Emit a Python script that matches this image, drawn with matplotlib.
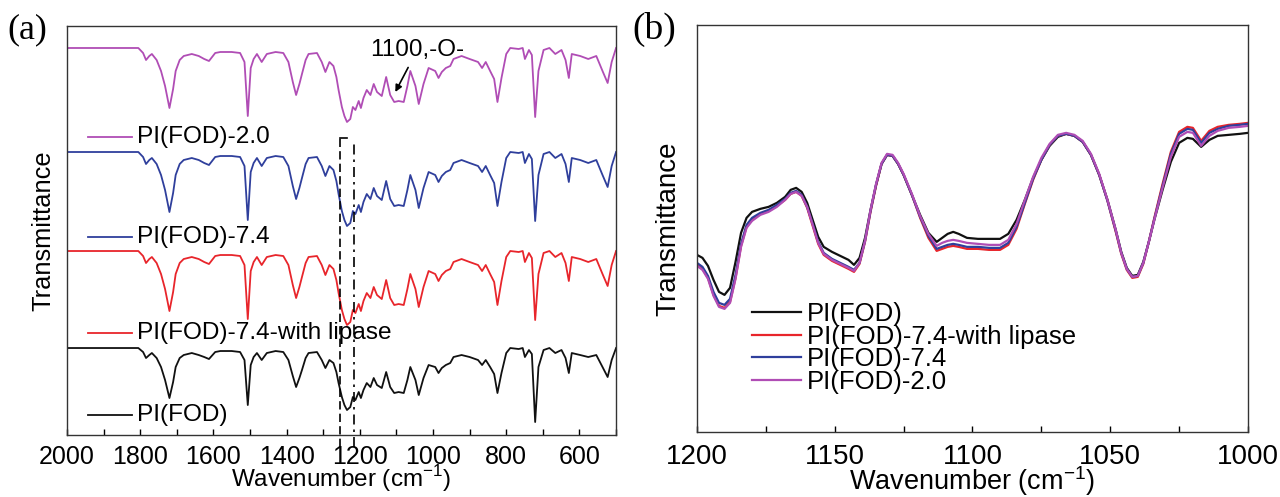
import matplotlib
matplotlib.use('Agg')
import matplotlib.pyplot as plt
from matplotlib.ticker import MultipleLocator

plt.rcParams['font.family'] = ['Liberation Sans', 'DejaVu Sans']
plt.rcParams['mathtext.fontset'] = 'custom'
plt.rcParams['mathtext.rm'] = 'Liberation Sans'

# ---- panel (a): full spectra, stacked (arbitrary transmittance units) ----
wn_a = [2000, 1900, 1805, 1792, 1784, 1775, 1768, 1755, 1743, 1732,
        1720, 1710, 1703, 1692, 1681, 1659, 1640, 1625, 1612, 1595,
        1581, 1550, 1527, 1515, 1506, 1498, 1490, 1481, 1468, 1454,
        1430, 1409, 1395, 1383, 1374, 1365, 1358, 1348, 1340, 1317,
        1304, 1294, 1283, 1272, 1264, 1258, 1249, 1242, 1235, 1226,
        1219, 1212, 1203, 1197, 1190, 1181, 1171, 1162, 1153, 1140,
        1128, 1117, 1106, 1094, 1080, 1070, 1062, 1048, 1039, 1026,
        1012, 994, 985, 976, 965, 953, 944, 922, 900, 877,
        866, 856, 844, 833, 824, 813, 800, 789, 766, 755,
        749, 738, 730, 721, 712, 698, 682, 666, 649, 638,
        629, 621, 598, 576, 554, 537, 523, 512, 500]

pi_fod_a = [87, 87, 87, 83, 77, 80, 82, 77, 68, 55,
            37, 53, 68, 77, 80, 82, 80, 78, 76, 83,
            84, 84, 83, 75, 30, 70, 78, 82, 75, 82,
            84, 83, 75, 59, 48, 57, 65, 77, 82, 83,
            75, 67, 75, 72, 63, 52, 38, 30, 25, 28,
            38, 35, 43, 37, 45, 52, 48, 57, 50, 47,
            63, 48, 42, 43, 42, 55, 68, 55, 40, 57,
            70, 68, 62, 67, 70, 72, 78, 80, 78, 75,
            70, 75, 68, 61, 42, 62, 82, 87, 86, 87,
            78, 85, 81, 13, 68, 85, 87, 82, 85, 77,
            62, 82, 80, 78, 80, 68, 58, 75, 87]

pi_lipase_a = [184, 184, 184, 179, 172, 176, 178, 172, 161, 146,
               124, 143, 161, 172, 176, 178, 176, 173, 171, 179,
               180, 180, 179, 170, 116, 164, 173, 178, 170, 178,
               180, 179, 170, 150, 137, 148, 158, 172, 178, 179,
               170, 160, 170, 166, 155, 142, 125, 116, 110, 113,
               125, 122, 131, 124, 134, 142, 137, 148, 140, 136,
               155, 137, 130, 131, 130, 146, 161, 146, 128, 148,
               164, 161, 154, 160, 164, 166, 173, 176, 173, 170,
               164, 170, 161, 153, 130, 154, 178, 184, 183, 184,
               173, 182, 177, 115, 161, 182, 184, 178, 182, 172,
               154, 178, 176, 173, 176, 161, 149, 170, 184]

pi_74_a = [283, 283, 283, 278, 271, 275, 277, 271, 260, 245,
           223, 242, 260, 271, 275, 277, 275, 272, 270, 278,
           279, 279, 278, 269, 215, 263, 272, 277, 269, 277,
           279, 278, 269, 249, 236, 247, 257, 271, 277, 278,
           269, 259, 269, 265, 254, 241, 224, 215, 209, 212,
           224, 221, 230, 223, 233, 241, 236, 247, 239, 235,
           254, 236, 229, 230, 229, 245, 260, 245, 227, 247,
           263, 260, 253, 259, 263, 265, 272, 275, 272, 269,
           263, 269, 260, 252, 229, 253, 277, 283, 282, 283,
           272, 281, 276, 214, 260, 281, 283, 277, 281, 271,
           253, 277, 275, 272, 275, 260, 248, 269, 283]

pi_20_a = [387, 387, 387, 382, 375, 379, 381, 375, 364, 349,
           327, 346, 364, 375, 379, 381, 379, 376, 374, 382,
           383, 383, 382, 373, 319, 367, 376, 381, 373, 381,
           383, 382, 373, 353, 340, 351, 361, 375, 381, 382,
           373, 363, 373, 369, 358, 345, 328, 319, 313, 316,
           328, 325, 334, 327, 337, 345, 340, 351, 343, 339,
           358, 340, 333, 334, 333, 349, 364, 349, 331, 351,
           367, 364, 357, 363, 367, 369, 376, 379, 376, 373,
           367, 373, 364, 356, 333, 357, 381, 387, 386, 387,
           376, 385, 380, 318, 364, 385, 387, 381, 385, 375,
           357, 381, 379, 376, 379, 364, 352, 373, 387]

# ---- panel (b): 1200-1000 region ----
wn_b = [1200, 1198, 1196, 1194, 1192, 1190, 1188, 1186, 1184, 1182,
        1180, 1177, 1174, 1171, 1168, 1166, 1164, 1162, 1160, 1158,
        1156, 1154, 1151, 1148, 1145, 1143, 1141, 1139, 1137, 1135,
        1133, 1131, 1129, 1127, 1125, 1122, 1119, 1116, 1113, 1111,
        1109, 1107, 1105, 1102, 1098, 1094, 1090, 1087, 1084, 1081,
        1078, 1075, 1072, 1069, 1066, 1063, 1060, 1057, 1054, 1051,
        1048, 1046, 1044, 1042, 1040, 1038, 1036, 1034, 1031, 1028,
        1025, 1022, 1020, 1017, 1014, 1011, 1007, 1003, 1000]

pi_fod_b = [177, 174, 166, 152, 140, 137, 144, 170, 199, 214,
            220, 223, 225, 229, 235, 242, 244, 240, 229, 212,
            195, 185, 180, 176, 172, 167, 174, 194, 222, 247,
            268, 277, 276, 268, 257, 237, 217, 199, 190, 194,
            198, 200, 198, 194, 193, 193, 193, 198, 212, 232,
            254, 272, 286, 295, 298, 296, 290, 277, 257, 232,
            202, 180, 164, 156, 157, 170, 190, 212, 242, 270,
            289, 294, 293, 285, 292, 296, 297, 298, 299]

pi_lipase_b = [167, 163, 154, 137, 126, 124, 130, 154, 186, 205,
               212, 218, 221, 226, 232, 238, 240, 236, 224, 206,
               188, 177, 171, 167, 163, 160, 168, 190, 220, 246,
               268, 277, 276, 268, 257, 237, 214, 194, 181, 183,
               185, 186, 185, 183, 183, 182, 182, 187, 203, 228,
               252, 272, 287, 296, 298, 296, 290, 277, 257, 231,
               200, 178, 162, 154, 155, 168, 190, 214, 248, 280,
               300, 305, 304, 291, 301, 305, 307, 308, 309]

pi_74_b = [169, 165, 156, 140, 129, 127, 133, 157, 188, 207,
           214, 219, 222, 227, 233, 239, 241, 237, 225, 208,
           190, 179, 173, 169, 165, 162, 169, 191, 221, 247,
           268, 277, 276, 268, 257, 237, 215, 196, 183, 185,
           187, 188, 187, 185, 185, 184, 184, 189, 205, 229,
           253, 272, 287, 296, 298, 296, 290, 277, 257, 231,
           201, 179, 163, 155, 156, 169, 190, 213, 246, 278,
           298, 303, 302, 289, 299, 303, 306, 307, 308]

pi_20_b = [166, 162, 153, 136, 125, 123, 129, 153, 185, 204,
           211, 217, 220, 225, 232, 238, 240, 236, 225, 207,
           189, 178, 172, 168, 164, 161, 169, 191, 222, 248,
           269, 278, 277, 269, 258, 238, 216, 198, 186, 189,
           191, 192, 191, 189, 188, 187, 187, 192, 208, 232,
           255, 274, 288, 297, 299, 297, 291, 278, 258, 232,
           202, 179, 163, 155, 156, 169, 190, 212, 244, 275,
           295, 300, 299, 286, 296, 301, 304, 305, 306]

labels = ['PI(FOD)', 'PI(FOD)-7.4-with lipase', 'PI(FOD)-7.4', 'PI(FOD)-2.0']
colors = ['#111111', '#e8252b', '#2f3f9c', '#b04db5']

fig = plt.figure(figsize=(12.8, 4.97), dpi=100)
ax1 = fig.add_axes([0.0523, 0.1247, 0.4290, 0.8230])
ax2 = fig.add_axes([0.5445, 0.1310, 0.4305, 0.8190])

series_a = [pi_fod_a, pi_lipase_a, pi_74_a, pi_20_a]
for ys, c in zip(series_a, colors):
    ax1.plot(wn_a, ys, color=c, lw=1.3)

# labels under each curve in panel (a)
label_y = [0.049, 0.249, 0.484, 0.729]
for lab, c, yy in zip(labels, colors, label_y):
    ax1.plot([0.038, 0.118], [yy, yy], color=c, lw=1.3, transform=ax1.transAxes)
    ax1.text(0.1275, yy, lab, transform=ax1.transAxes, fontsize=17.6,
             va='center', ha='left')

# dashed / dash-dot box around the 1240 band
box_kw = dict(color='k', lw=1.2, clip_on=False)
ax1.plot([1254, 1254], [-12, 297], ls=(0, (5, 2.5)), **box_kw)
ax1.plot([1215, 1215], [-12, 295], ls=(0, (6, 3, 1.5, 3)), **box_kw)
ax1.plot([1254, 1236], [297, 297], ls='-', **box_kw)

ax1.annotate('1100,-O-', xy=(1103, 343), xytext=(1043, 385), fontsize=17.5,
             ha='center', va='center',
             arrowprops=dict(arrowstyle='-|>', color='k', lw=1.2,
                             mutation_scale=10, shrinkA=3, shrinkB=0))

ax1.set_xlim(2000, 500)
ax1.set_ylim(0, 409)
ax1.xaxis.set_major_locator(MultipleLocator(200))
ax1.xaxis.set_minor_locator(MultipleLocator(100))
ax1.set_yticks([])
ax1.tick_params(axis='x', which='both', direction='in', length=4, width=1,
                labelsize=18, top=False, pad=7.5)
ax1.set_xlabel('Wavenumber (cm$^{-1}$)', fontsize=17.5)
ax1.xaxis.set_label_coords(0.5, -44 / 409)
ax1.xaxis.label.set_va('center')
ax1.set_ylabel('Transmittance', fontsize=18.3, labelpad=8)

series_b = [pi_fod_b, pi_lipase_b, pi_74_b, pi_20_b]
for ys, c, lab in zip(series_b, colors, labels):
    ax2.plot(wn_b, ys, color=c, lw=1.6, label=lab, solid_joinstyle='round')
ax2.legend(loc='upper left', bbox_to_anchor=(0.10, 0.318), frameon=False,
           fontsize=18.5, handlelength=1.9, handletextpad=0.25,
           labelspacing=-0.06, borderpad=0, borderaxespad=0)

ax2.set_xlim(1200, 1000)
ax2.set_ylim(0, 407)
ax2.xaxis.set_major_locator(MultipleLocator(50))
ax2.xaxis.set_minor_locator(MultipleLocator(25))
ax2.set_yticks([])
ax2.tick_params(axis='x', which='both', direction='in', length=4, width=1,
                labelsize=20, top=False, pad=9)
ax2.set_xlabel('Wavenumber (cm$^{-1}$)', fontsize=19.5)
ax2.xaxis.set_label_coords(0.5, -49 / 407)
ax2.xaxis.label.set_va('center')
ax2.set_ylabel('Transmittance', fontsize=20, labelpad=11)

for ax in (ax1, ax2):
    for sp in ax.spines.values():
        sp.set_color('#333333')
        sp.set_linewidth(1.0)

fig.text(0.006, 0.94, '(a)', fontsize=26, family='Liberation Serif', va='center')
fig.text(0.494, 0.94, '(b)', fontsize=27, family='Liberation Serif', va='center')

fig.savefig('out.png', dpi=100)
